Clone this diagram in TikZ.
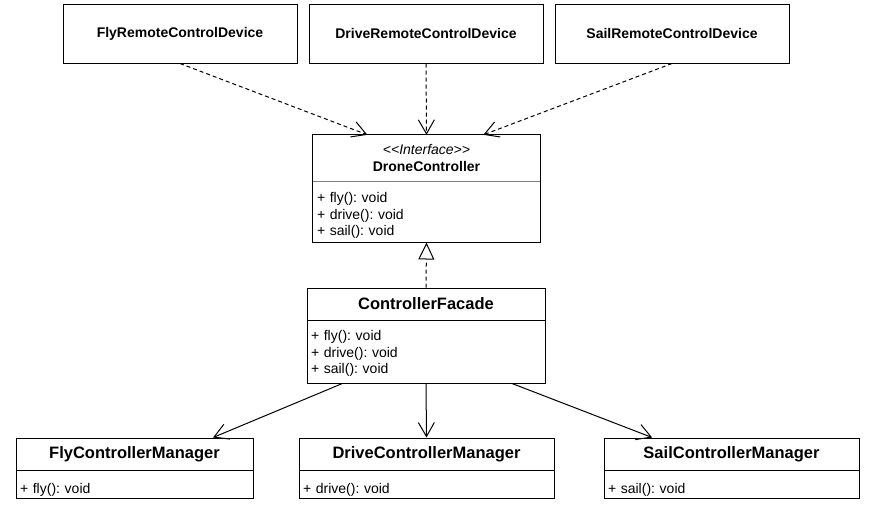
\documentclass[tikz,border=0pt]{standalone}
\usepackage{fontspec}
\setmainfont{Liberation Sans}[Ligatures=TeXOff]
\usetikzlibrary{arrows.meta,calc}
\frenchspacing

\tikzset{
  classbox/.style = {draw, line width=1pt, inner sep=0pt},
  devicebox/.style = {classbox, minimum width=234pt, minimum height=59pt,
                      font=\fontsize{14}{17}\selectfont\bfseries},
  headbox/.style   = {classbox, font=\fontsize{16.5}{19}\selectfont\bfseries},
  memberbox/.style = {classbox, inner xsep=4pt, align=left,
                      font=\fontsize{14}{16.5}\selectfont,
                      execute at begin node={\rule{0pt}{#1}}},
  memberbox/.default = 10pt,
  uses/.style      = {line width=1pt, dash pattern=on 4pt off 3pt,
                      -{Straight Barb[length=14pt,width=16pt]}},
  calls/.style     = {line width=1pt, -{Straight Barb[length=14pt,width=16pt]}},
  realizes/.style  = {line width=1pt, dash pattern=on 4pt off 3pt,
                      -{Triangle[open,length=17pt,width=16pt]}}
}

\begin{document}
\begin{tikzpicture}[x=1pt, y=-1pt]
  \useasboundingbox[fill=white] (0,0) rectangle (873,520);

% level 0: remote control devices
\node[devicebox] (flydevice)   at (180,33.5) {FlyRemoteControlDevice};
\node[devicebox] (drivedevice) at (426,33.5) {DriveRemoteControlDevice};
\node[devicebox] (saildevice)  at (672,33.5) {SailRemoteControlDevice};

% level 1: interface
\node[inner sep=0pt, minimum width=227pt, minimum height=46pt, align=center,
      font=\fontsize{14}{17}\selectfont] (dronehead) at (426.5,158)
      {\itshape <<Interface>>\\ \bfseries DroneController};
\node[memberbox=18.5pt, draw=none, minimum width=227pt, minimum height=61pt,
      text width=219pt] (dronebody) at (426.5,211.5)
      {+ fly(): void\\+ drive(): void\\+ sail(): void};
\draw[gray, line width=0.8pt] (dronehead.south west) -- (dronehead.south east);
\draw[line width=1pt] (dronehead.north west) rectangle (dronebody.south east);

% level 2: facade
\node[headbox, minimum width=238pt, minimum height=32pt] (facadehead) at (426,304) {ControllerFacade};
\node[memberbox=14.5pt, minimum width=238pt, minimum height=63pt, text width=230pt]
      (facadebody) at (426,351.5) {+ fly(): void\\+ drive(): void\\+ sail(): void};

% level 3: managers
\node[headbox, minimum width=237pt, minimum height=32pt] (flyhead) at (134.5,454) {FlyControllerManager};
\node[memberbox=21pt, minimum width=237pt, minimum height=28pt, text width=229pt]
      (flybody) at (134.5,484) {+ fly(): void};
\node[headbox, minimum width=255pt, minimum height=32pt] (drivehead) at (426.5,454) {DriveControllerManager};
\node[memberbox=21pt, minimum width=255pt, minimum height=28pt, text width=247pt]
      (drivebody) at (426.5,484) {+ drive(): void};
\node[headbox, minimum width=255pt, minimum height=32pt] (sailhead) at (731.5,454) {SailControllerManager};
\node[memberbox=21pt, minimum width=255pt, minimum height=28pt, text width=247pt]
      (sailbody) at (731.5,484) {+ sail(): void};

% connectors
\draw[uses] (flydevice.south)   -- ($(dronehead.north west)!0.24!(dronehead.north east)$);
\draw[uses] (drivedevice.south) -- (dronehead.north);
\draw[uses] (saildevice.south)  -- ($(dronehead.north west)!0.75!(dronehead.north east)$);

\draw[realizes] (facadehead.north) -- (dronebody.south);

\draw[calls] ($(facadebody.south west)!0.15!(facadebody.south east)$) -- ($(flyhead.north west)!0.83!(flyhead.north east)$);
\draw[calls] (facadebody.south) -- (drivehead.north);
\draw[calls] ($(facadebody.south west)!0.86!(facadebody.south east)$) -- ($(sailhead.north west)!0.19!(sailhead.north east)$);

\end{tikzpicture}
\end{document}
